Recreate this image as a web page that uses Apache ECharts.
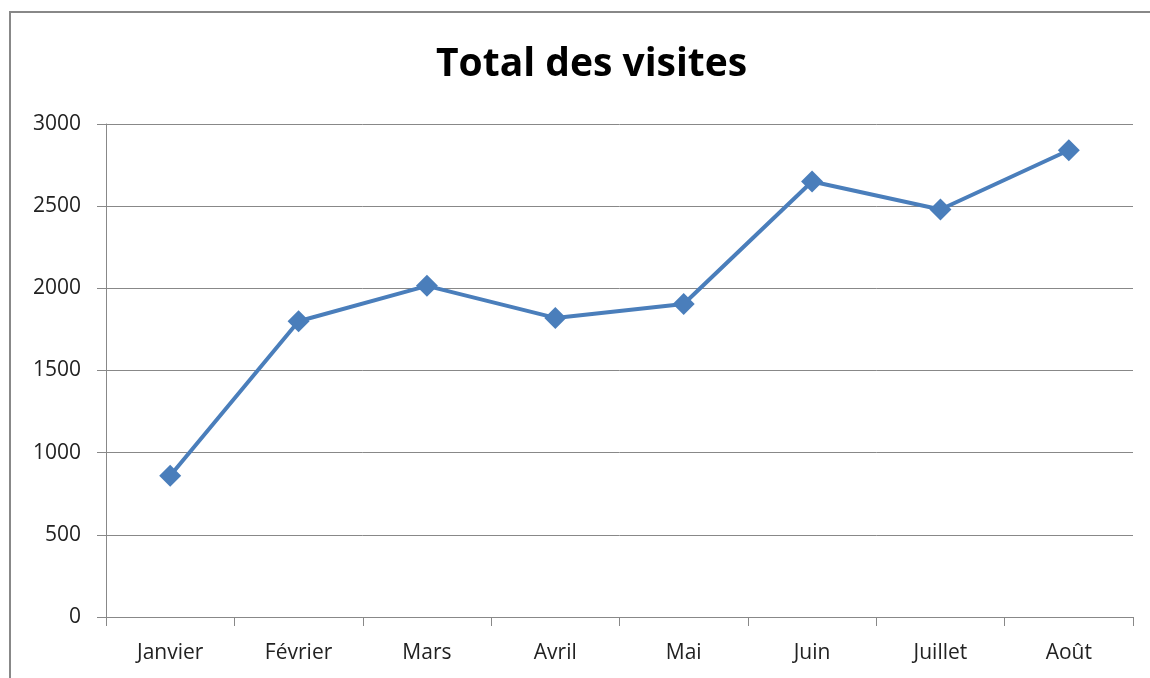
<!DOCTYPE html>
<html>
<head>
<meta charset="utf-8">
<script src="https://cdn.jsdelivr.net/npm/echarts@6/dist/echarts.min.js"></script>
<style>
	html,body{margin:0;padding:0;background:#fff}
	#chart{width:1150px;height:678px}
</style>
</head>
<body>
<div id="chart"></div>
<script>
const months = ['Janvier', 'Février', 'Mars', 'Avril', 'Mai', 'Juin', 'Juillet', 'Août'];
const visites = [860, 1800, 2015, 1820, 1905, 2650, 2480, 2840];

var myChart = echarts.init(document.getElementById('chart'));
let option = {
	animation: false,
	textStyle: { fontFamily: 'Open Sans' },
	title: {
		text: 'Total des visites',
		left: 431,
		top: 40,
		textStyle: { fontSize: 39, fontWeight: 'bold', color: '#000', fontFamily: 'Open Sans' }
	},
	graphic: [
		{
			type: 'rect',
			shape: { x: 10, y: 12, width: 1300, height: 800 },
			style: { fill: 'none', stroke: '#888', lineWidth: 2 },
			silent: true
		}
	],
	grid: { left: 106, right: 17, top: 124, bottom: 61, containLabel: false },
	xAxis: {
		type: 'category',
		data: months,
		boundaryGap: true,
		axisLine: { lineStyle: { color: '#888', width: 1 } },
		axisTick: { show: true, length: 9, lineStyle: { color: '#888' } },
		axisLabel: { color: '#222', fontSize: 21, margin: 26 }
	},
	yAxis: {
		type: 'value',
		min: 0,
		max: 3000,
		interval: 500,
		axisLine: { show: true, lineStyle: { color: '#888' } },
		axisTick: { show: true, length: 9, lineStyle: { color: '#888' } },
		splitLine: { lineStyle: { color: '#888', width: 1 } },
		axisLabel: { color: '#222', fontSize: 21, margin: 25, formatter: function (v) { return String(v); } }
	},
	series: [
		{
			type: 'line',
			data: visites,
			symbol: 'diamond',
			symbolSize: 22,
			lineStyle: { color: '#4a7ebb', width: 4 },
			itemStyle: { color: '#4a7ebb' }
		}
	]
};
myChart.setOption(option);
</script>
</body>
</html>
